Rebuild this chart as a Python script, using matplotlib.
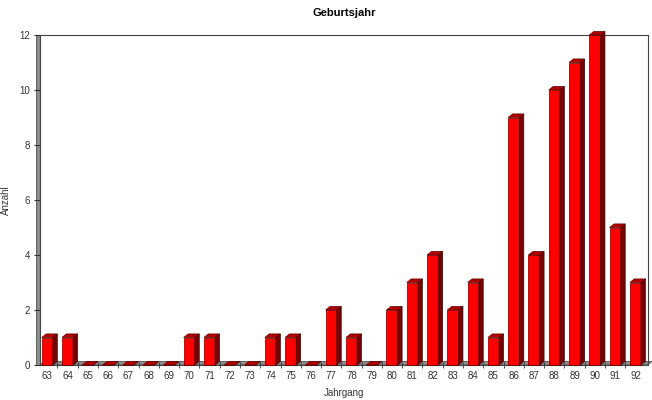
import matplotlib
matplotlib.use("Agg")
import matplotlib.pyplot as plt
from matplotlib.patches import Polygon

plt.rcParams['font.family'] = ['Liberation Sans', 'DejaVu Sans']

jahrgang = list(range(63, 93))
anzahl = [1, 1, 0, 0, 0, 0, 0, 1, 1, 0, 0, 1, 1, 0, 2, 1, 0, 2, 3, 4, 2, 3, 1, 9, 4, 10, 11, 12, 5, 3]
yticks = [0, 2, 4, 6, 8, 10, 12]

fig = plt.figure(figsize=(6.52, 4.0), dpi=100)
ax = fig.add_axes([0.0613, 0.0875, 0.932, 0.825])

breite = 0.55
dx, dy = 0.22, 0.13   # 3D-Tiefe in Dateneinheiten

# Boden und linke Wand (grau)
x0, x1 = jahrgang[0] - 0.36, jahrgang[-1] + 0.6
ax.add_patch(Polygon([(x0, 0), (x1, 0), (x1 + dx, dy), (x0 + dx, dy)], closed=True,
                     facecolor='#8c8c8c', edgecolor='#555555', lw=0.6, zorder=1, clip_on=False))
ax.add_patch(Polygon([(x0 - dx * 0.9, 0), (x0, 0), (x0, 12), (x0 - dx * 0.9, 12)], closed=True,
                     facecolor='#8c8c8c', edgecolor='#555555', lw=0.6, zorder=1, clip_on=False))

for x, h in zip(jahrgang, anzahl):
    l = x - breite / 2
    r = x + breite / 2
    # Front
    ax.add_patch(Polygon([(l, 0), (r, 0), (r, h), (l, h)], facecolor='#ff0000',
                         edgecolor='#600000', lw=0.5, zorder=3, clip_on=False))
    # Seite
    ax.add_patch(Polygon([(r, 0), (r + dx, dy), (r + dx, h + dy), (r, h)], facecolor='#7a0000',
                         edgecolor='#500000', lw=0.5, zorder=3, clip_on=False))
    # Oberseite
    ax.add_patch(Polygon([(l, h), (r, h), (r + dx, h + dy), (l + dx, h + dy)], facecolor='#b00000',
                         edgecolor='#600000', lw=0.5, zorder=3, clip_on=False))

ax.set_xlim(x0, 92.6)
ax.set_ylim(0, 12)
ax.set_yticks(yticks)
ax.set_xticks(jahrgang)
ax.set_xticklabels([str(j) for j in jahrgang])
ax.set_xticks([j + 0.5 for j in jahrgang[:-1]], minor=True)
ax.tick_params(axis='x', which='major', length=0, labelsize=7, colors='#333333', pad=4)
ax.tick_params(axis='x', which='minor', length=4, direction='inout', color='#333333')
ax.tick_params(axis='y', length=4, labelsize=7, colors='#333333', pad=3)

for s in ax.spines.values():
    s.set_color('#444444')
    s.set_linewidth(0.8)

ax.set_title('Geburtsjahr', fontsize=8, fontweight='bold', pad=14)
ax.set_xlabel('Jahrgang', fontsize=7, color='#333333', labelpad=5)
ax.set_ylabel('Anzahl', fontsize=7, color='#333333', labelpad=6)

fig.savefig('out.png', dpi=100)
